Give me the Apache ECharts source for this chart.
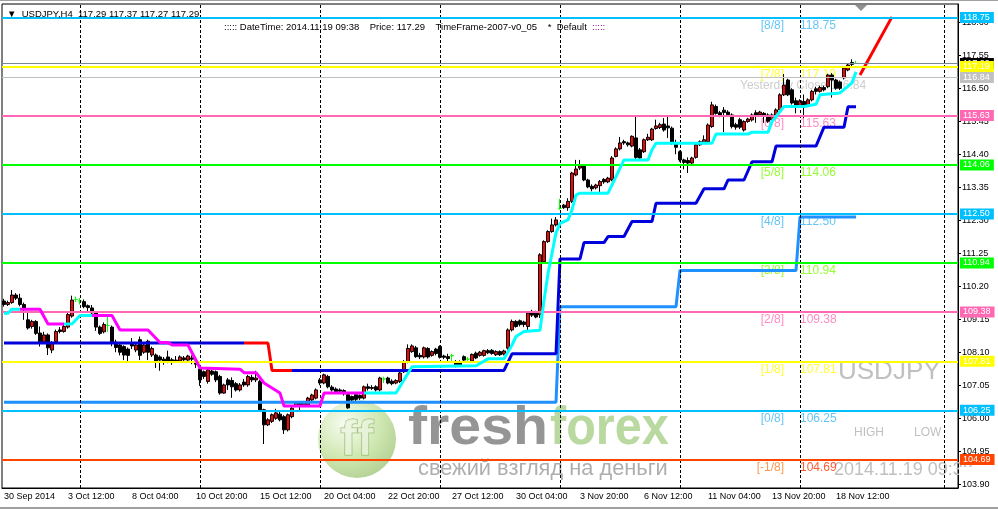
<!DOCTYPE html>
<html>
<head>
<meta charset="utf-8">
<title>USDJPY H4</title>
<script src="https://cdn.jsdelivr.net/npm/echarts@6.0.0/dist/echarts.min.js"></script>
<style>
html, body { margin: 0; padding: 0; background: #fff; }
#main { width: 998px; height: 509px; }
</style>
</head>
<body>
<div id="main"></div>
<script>
// x axis: one category per H4 bar, plus empty space on the right (chart shift)
const barCount = 239;
const xLabels = ['30 Sep 2014', '3 Oct 12:00', '8 Oct 04:00', '10 Oct 20:00', '15 Oct 12:00', '20 Oct 04:00', '22 Oct 20:00',
    '27 Oct 12:00', '30 Oct 04:00', '3 Nov 20:00', '6 Nov 12:00', '11 Nov 04:00', '13 Nov 20:00', '18 Nov 12:00'];
const xLabelBars = [0, 16, 32, 48, 64, 80, 96, 112, 128, 144, 160, 176, 192, 208];
const weekLines = [19, 49, 79, 109, 139, 169, 199, 235];
const yTicks = [103.90, 104.95, 106.00, 107.05, 108.10, 109.15, 110.20, 111.25, 112.30, 113.35, 114.40, 115.45, 116.50, 117.55, 118.60];

// open, close, low, high
const candles = [
    [109.73, 109.62, 109.55, 109.80], [109.62, 109.68, 109.57, 109.74], [109.68, 109.92, 109.64, 110.08], [109.92, 109.82, 109.76, 109.98],
    [109.82, 109.62, 109.56, 109.96], [109.62, 109.50, 109.13, 109.68], [109.13, 108.87, 108.82, 109.38], [108.92, 109.08, 108.85, 109.13],
    [109.08, 108.70, 108.65, 109.12], [108.71, 108.43, 108.28, 108.92], [108.43, 108.65, 108.38, 108.75], [108.65, 108.24, 108.01, 108.70],
    [108.17, 108.40, 108.07, 108.45], [108.44, 108.76, 108.40, 108.82], [108.81, 108.76, 108.70, 108.90], [108.76, 108.92, 108.72, 109.00],
    [108.90, 109.30, 108.85, 109.35], [109.25, 109.76, 109.20, 109.90], [109.78, 109.78, 109.70, 109.87], [109.73, 109.73, 109.62, 109.82],
    [109.71, 109.55, 109.50, 109.78], [109.58, 109.52, 109.35, 109.62], [109.51, 109.35, 109.30, 109.60], [109.35, 108.90, 108.78, 109.40],
    [108.90, 108.70, 108.65, 108.95], [108.75, 108.98, 108.70, 109.05], [108.95, 108.95, 108.75, 109.25], [108.90, 108.43, 108.29, 108.95],
    [108.42, 108.25, 108.10, 108.50], [108.33, 108.10, 108.00, 108.38], [108.28, 108.01, 107.85, 108.32], [108.20, 108.00, 107.78, 108.25],
    [108.36, 108.30, 108.20, 108.55], [108.17, 108.33, 108.10, 108.40], [108.50, 108.00, 107.85, 108.60], [108.10, 108.33, 108.05, 108.38],
    [108.45, 108.10, 107.85, 108.50], [108.01, 108.22, 107.95, 108.28], [108.01, 107.82, 107.60, 108.06], [107.95, 107.85, 107.51, 108.00],
    [107.88, 107.82, 107.70, 107.95], [107.95, 107.82, 107.75, 108.15], [107.86, 107.82, 107.70, 107.92], [107.85, 107.82, 107.76, 107.98],
    [107.82, 107.95, 107.78, 108.00], [107.92, 107.86, 107.80, 107.98], [107.85, 107.98, 107.80, 108.02], [107.92, 107.88, 107.72, 108.00],
    [107.82, 107.72, 107.60, 107.88], [107.57, 107.22, 107.03, 107.62], [107.48, 107.33, 107.25, 107.52], [107.17, 107.54, 107.10, 107.58],
    [107.50, 107.40, 107.35, 107.55], [107.48, 107.22, 107.15, 107.52], [107.33, 106.80, 106.75, 107.38], [106.80, 107.06, 106.78, 107.10],
    [107.22, 107.06, 106.90, 107.28], [107.20, 107.00, 106.65, 107.30], [107.10, 106.90, 106.85, 107.15], [106.90, 107.06, 106.85, 107.12],
    [107.15, 107.06, 107.00, 107.25], [107.06, 107.33, 107.00, 107.38], [107.30, 107.22, 107.15, 107.38], [107.22, 107.28, 107.15, 107.51],
    [107.17, 106.27, 106.22, 107.22], [106.27, 105.79, 105.18, 106.30], [105.79, 105.95, 105.75, 106.00], [105.90, 106.11, 105.85, 106.15],
    [106.00, 106.17, 105.95, 106.30], [106.13, 105.95, 105.90, 106.25], [106.05, 105.63, 105.50, 106.10], [105.63, 106.11, 105.58, 106.15],
    [106.05, 106.32, 106.00, 106.36], [106.40, 106.48, 106.35, 106.52], [106.50, 106.42, 106.25, 106.55], [106.42, 106.50, 106.38, 106.55],
    [106.42, 106.64, 106.38, 106.68], [106.58, 106.74, 106.55, 106.78], [106.64, 106.90, 106.60, 106.95], [107.22, 107.12, 107.05, 107.28],
    [107.12, 107.38, 107.08, 107.42], [107.33, 107.00, 106.95, 107.38], [106.99, 106.90, 106.85, 107.05], [106.93, 106.85, 106.80, 106.98],
    [106.90, 106.86, 106.80, 106.95], [106.88, 106.78, 106.72, 106.92], [106.75, 106.33, 106.30, 106.80], [106.69, 106.58, 106.52, 106.72],
    [106.75, 106.60, 106.55, 106.80], [106.72, 106.64, 106.58, 106.76], [106.64, 107.00, 106.60, 107.04], [107.00, 106.95, 106.88, 107.10],
    [106.98, 106.95, 106.90, 107.05], [107.00, 106.90, 106.85, 107.05], [106.90, 107.28, 106.85, 107.32], [107.25, 107.25, 107.12, 107.32],
    [107.28, 107.12, 107.08, 107.32], [107.18, 107.10, 107.05, 107.24], [107.12, 107.20, 107.08, 107.24], [107.17, 107.44, 107.12, 107.48],
    [107.48, 107.80, 107.44, 107.85], [107.80, 108.22, 107.75, 108.35], [108.12, 108.30, 108.08, 108.35], [108.24, 107.96, 107.92, 108.30],
    [108.00, 107.95, 107.88, 108.08], [107.95, 108.24, 107.90, 108.28], [108.22, 107.95, 107.90, 108.26], [108.00, 108.12, 107.96, 108.16],
    [108.20, 108.06, 108.00, 108.24], [108.28, 107.94, 107.90, 108.32], [107.98, 107.94, 107.88, 108.02], [107.96, 107.90, 107.80, 108.05],
    [107.99, 107.99, 107.80, 108.05], [107.80, 107.70, 107.62, 107.85], [107.80, 107.70, 107.66, 107.84], [107.96, 107.85, 107.80, 108.00],
    [107.88, 107.88, 107.80, 107.95], [107.82, 108.03, 107.78, 108.06], [108.07, 107.92, 107.88, 108.12], [108.00, 108.10, 107.96, 108.14],
    [108.00, 108.15, 107.96, 108.18], [108.15, 108.08, 108.04, 108.20], [108.16, 108.06, 108.02, 108.20], [108.02, 108.12, 107.98, 108.16],
    [108.12, 108.02, 107.98, 108.16], [108.04, 108.14, 108.00, 108.18], [108.23, 108.81, 108.18, 108.86], [108.81, 109.08, 108.76, 109.14],
    [109.08, 108.92, 108.88, 109.12], [109.10, 108.98, 108.92, 109.14], [109.06, 108.98, 108.90, 109.10], [108.92, 109.35, 108.80, 109.40],
    [109.40, 109.28, 109.22, 109.45], [109.38, 109.22, 109.18, 109.42], [109.29, 111.20, 109.19, 111.25], [110.98, 111.62, 110.95, 111.66],
    [111.62, 111.94, 111.58, 111.98], [111.94, 112.15, 111.90, 112.35], [112.15, 112.31, 112.10, 112.40], [112.68, 112.68, 112.63, 112.98],
    [112.78, 112.70, 112.66, 112.82], [112.70, 112.90, 112.60, 113.00], [112.90, 113.80, 112.85, 113.84], [113.74, 113.93, 113.70, 114.22],
    [113.96, 114.03, 113.90, 114.22], [114.03, 113.58, 113.54, 114.08], [113.58, 113.36, 113.32, 113.62], [113.38, 113.30, 113.22, 113.44],
    [113.33, 113.42, 113.28, 113.46], [113.40, 113.53, 113.20, 113.58], [113.60, 113.52, 113.46, 113.64], [113.52, 113.64, 113.48, 113.68],
    [113.58, 114.28, 113.54, 114.34], [114.33, 114.57, 114.30, 114.62], [114.57, 114.76, 114.52, 114.95], [114.80, 114.76, 114.70, 114.86],
    [114.76, 114.70, 114.64, 114.80], [114.66, 114.97, 114.62, 115.00], [114.92, 114.30, 114.20, 115.60], [114.54, 114.28, 114.24, 114.60],
    [114.48, 114.86, 114.44, 114.90], [114.86, 114.94, 114.82, 115.05], [114.86, 115.20, 114.82, 115.24], [115.22, 115.30, 115.18, 115.50],
    [115.25, 115.34, 115.20, 115.40], [115.36, 115.17, 115.12, 115.55], [115.30, 115.24, 114.92, 115.60], [115.23, 114.75, 114.70, 115.28],
    [114.75, 114.62, 114.40, 114.86], [114.48, 114.22, 114.16, 114.52], [114.22, 114.14, 113.92, 114.26], [114.20, 114.12, 113.80, 114.30],
    [114.12, 114.28, 114.05, 114.32], [114.30, 114.70, 114.26, 114.74], [114.70, 114.80, 114.66, 114.84], [114.78, 114.86, 114.72, 115.00],
    [114.80, 115.33, 114.76, 115.38], [115.28, 115.97, 115.24, 116.07], [115.92, 115.70, 115.66, 115.98], [115.72, 115.64, 115.58, 115.78],
    [115.80, 115.73, 115.10, 115.90], [115.74, 115.66, 115.60, 115.80], [115.65, 115.28, 115.22, 115.70], [115.34, 115.26, 115.18, 115.40],
    [115.50, 115.26, 115.20, 115.56], [115.17, 115.44, 115.12, 115.48], [115.44, 115.52, 115.40, 115.56], [115.49, 115.65, 115.44, 115.70],
    [115.72, 115.64, 115.40, 115.80], [115.66, 115.74, 115.60, 115.78], [115.70, 115.60, 115.40, 115.74], [115.65, 115.45, 115.40, 115.70],
    [115.49, 115.65, 115.45, 115.70], [115.65, 115.81, 115.60, 115.86], [115.81, 116.29, 115.76, 116.34], [116.29, 116.60, 116.25, 116.95],
    [116.76, 116.29, 116.25, 116.80], [116.45, 116.03, 115.98, 116.50], [116.10, 115.95, 115.70, 116.20], [115.95, 116.10, 115.90, 116.15],
    [116.08, 115.95, 115.55, 116.30], [115.95, 116.13, 115.90, 116.18], [116.13, 116.40, 116.08, 116.45], [116.48, 116.40, 116.30, 116.55],
    [116.40, 116.52, 116.36, 116.58], [116.52, 116.45, 116.40, 116.58], [116.55, 116.92, 116.50, 116.96], [116.92, 116.76, 116.20, 116.98],
    [116.76, 116.50, 116.45, 116.80], [116.70, 116.50, 116.44, 116.74], [116.83, 117.14, 116.78, 117.18], [117.08, 117.24, 117.04, 117.28],
    [117.32, 117.26, 117.20, 117.42], [117.29, 117.29, 117.27, 117.37]
];

// Murrey math levels
const levelNames = ['[8/8]', '[7/8]', '[6/8]', '[5/8]', '[4/8]', '[3/8]', '[2/8]', '[1/8]', '[0/8]', '[-1/8]'];
const levelValues = [118.75, 117.19, 115.63, 114.06, 112.50, 110.94, 109.38, 107.81, 106.25, 104.69];
const bidPrice = 117.29;
const yesterdayClose = 116.84;

// indicator lines, as [bar, price] corners
const slowBlue = [[0, 108.39], [60, 108.39]];
const slowRed = [[60, 108.39], [66, 108.39], [67, 107.52], [72, 107.52]];
const slowBlue2 = [[72, 107.52], [125, 107.52], [127, 108.05], [138, 108.05], [139, 111.07], [144, 111.07], [145, 111.59], [150, 111.59],
    [151, 111.78], [155, 111.78], [157, 112.26], [162, 112.26], [163, 112.84], [173, 112.84], [175, 113.30], [180, 113.30],
    [181, 113.58], [185, 113.58], [187, 114.16], [192, 114.16], [193, 114.66], [203, 114.66], [205, 115.26], [210, 115.26],
    [211, 115.91], [213, 115.91]];
const baseLine = [[0, 106.51], [138, 106.51], [139, 109.55], [168, 109.55], [169, 110.70], [198, 110.70], [199, 112.40], [213, 112.40]];
const trendUp = [
    [[0, 109.34], [1, 109.34], [2, 109.47], [4, 109.47]],
    [[15, 109.00], [17, 109.00], [19, 109.27], [22, 109.27]],
    [[90, 106.80], [98, 106.80], [102, 107.64], [118, 107.67], [121, 107.89], [125, 107.89], [127, 108.33], [128, 108.60],
        [130, 108.76], [134, 108.80], [135, 109.75], [136, 110.60], [137, 111.25], [138, 111.90], [139, 112.20], [141, 112.31],
        [142, 112.63], [143, 113.11], [144, 113.16], [151, 113.16], [153, 113.69], [154, 113.96], [155, 114.22], [161, 114.22],
        [162, 114.54], [163, 114.75], [177, 114.75], [178, 115.04], [186, 115.04], [187, 115.10], [191, 115.10], [192, 115.44],
        [195, 115.92], [200, 115.92], [203, 115.99], [204, 116.29], [209, 116.35], [212, 116.67], [213, 117.02]]
];
const trendDown = [
    [[4, 109.47], [9, 109.47], [11, 109.00], [15, 109.00]],
    [[22, 109.27], [27, 109.27], [29, 108.81], [36, 108.81], [39, 108.41], [41, 108.41], [42, 108.33], [46, 108.33],
        [49, 107.60], [59, 107.56], [60, 107.45], [63, 107.45], [65, 107.12], [69, 106.80], [70, 106.39], [79, 106.39],
        [80, 106.80], [90, 106.80]]
];
const projection = [[214, 116.92], [222, 118.77]];

const F = '"Liberation Sans", Arial, sans-serif';
const levelLineColors = ['#00BFFF', '#FFFF00', '#FF69B4', '#00FF00', '#00BFFF', '#00FF00', '#FF69B4', '#FFFF00', '#00BFFF', '#FF4500'];
const levelNameColors = ['#3DB7F2', '#FFFF00', '#FF6EB4', '#7CFC00', '#3DB7F2', '#7CFC00', '#FF6EB4', '#FFFF00', '#3DB7F2', '#FF7F24'];
const levelValueColors = ['#3DB7F2', '#FFFF00', '#FF6EB4', '#7CFC00', '#3DB7F2', '#7CFC00', '#FF6EB4', '#FFFF00', '#3DB7F2', '#FF3300'];

const categories = [];
for (let i = 0; i < barCount; i++) categories.push(String(i));

var chartDom = document.getElementById('main');
var myChart = echarts.init(chartDom);
var option;

const dojiStyle = { color: '#00FF00', color0: '#00FF00', borderColor: '#00FF00', borderColor0: '#00FF00', borderColorDoji: '#00FF00' };
const candleData = candles.map(c => c[0] === c[1] ? { value: c, itemStyle: dojiStyle } : c);

function priceBox(value, lineColor, width, boxColor) {
    return {
        yAxis: value,
        lineStyle: { color: lineColor, width: width, type: 'solid' },
        label: {
            show: true, position: 'end', distance: 2, formatter: value.toFixed(2),
            color: '#fff', backgroundColor: boxColor, padding: [1, 4, 0, 3],
            fontSize: 9, fontFamily: F, lineHeight: 10
        }
    };
}

const priceLines = [priceBox(bidPrice, '#778899', 1, '#000')];
levelValues.forEach((v, k) => priceLines.push(priceBox(v, levelLineColors[k], 2, levelLineColors[k])));
priceLines.push(priceBox(yesterdayClose, '#C0C0C0', 1, '#C0C0C0'));

const levelTexts = [];
levelValues.forEach((v, k) => {
    levelTexts.push({ value: [195, v], label: { formatter: levelNames[k], color: levelNameColors[k], align: 'right' } });
    levelTexts.push({ value: [199, v], label: { formatter: v.toFixed(2), color: levelValueColors[k], align: 'left' } });
});
levelTexts.push({ value: [184, yesterdayClose], label: { formatter: 'Yesterday Close ' + yesterdayClose.toFixed(2), color: '#C0C0C0', align: 'left' } });

function lineSeries(points, color, z) {
    return {
        type: 'line', data: points, symbol: 'none', z: z, silent: true,
        lineStyle: { color: color, width: 3 }
    };
}

const series = [
    {
        type: 'line', data: [], z: 1, silent: true,
        markLine: {
            symbol: ['none', 'none'], silent: true, label: { show: false },
            lineStyle: { color: '#000', width: 1, type: [3, 2] },
            data: weekLines.map(i => ({ xAxis: i }))
        }
    },
    {
        type: 'scatter', data: levelTexts, symbolSize: 0, z: 1, silent: true,
        label: { show: true, position: 'inside', offset: [0, 8], fontSize: 12, fontFamily: F, verticalAlign: 'middle' }
    },
    {
        type: 'candlestick', data: candleData, barWidth: 3, z: 2,
        itemStyle: { color: '#FF0000', color0: '#000000', borderColor: '#000000', borderColor0: '#000000', borderWidth: 1 }
    },
    {
        type: 'line', data: [], z: 3, silent: true,
        markLine: { symbol: ['none', 'none'], silent: true, data: priceLines }
    },
    lineSeries(baseLine, '#1E90FF', 4),
    lineSeries(slowBlue, '#0000DD', 4),
    lineSeries(slowRed, '#FF0000', 4),
    lineSeries(slowBlue2, '#0000DD', 4),
    lineSeries(projection, '#FF0000', 4)
];
trendUp.forEach(seg => series.push(lineSeries(seg, '#00FFFF', 5)));
trendDown.forEach(seg => series.push(lineSeries(seg, '#FF00FF', 5)));

option = {
    animation: false,
    backgroundColor: '#fff',
    grid: { left: 2, right: 40, top: 4, bottom: 21, show: true, borderColor: '#000', borderWidth: 1 },
    xAxis: {
        type: 'category', data: categories, boundaryGap: true,
        axisLine: { lineStyle: { color: '#000' } },
        axisTick: { alignWithLabel: true, length: 3, interval: (i) => xLabelBars.includes(i), lineStyle: { color: '#000' } },
        axisLabel: {
            interval: (i) => xLabelBars.includes(i),
            formatter: (v, i) => { const k = xLabelBars.indexOf(i); return k >= 0 ? xLabels[k] : ''; },
            align: 'left', margin: 4, color: '#000', fontSize: 9, fontFamily: F
        },
        splitLine: { show: false }
    },
    yAxis: {
        type: 'value', position: 'right', min: 103.78, max: 119.18,
        axisLine: { show: true, lineStyle: { color: '#000' } },
        axisTick: { show: true, length: 3, customValues: yTicks, lineStyle: { color: '#000' } },
        axisLabel: { customValues: yTicks, formatter: v => v.toFixed(2), color: '#000', fontSize: 9, fontFamily: F, margin: 4 },
        splitLine: { show: false }
    },
    graphic: [
        // window frame bits
        { type: 'rect', shape: { x: 0, y: 0, width: 998, height: 1 }, style: { fill: '#A0A0A0' }, z: 10 },
        { type: 'rect', shape: { x: 0, y: 507, width: 998, height: 2 }, style: { fill: '#A0A0A0' }, z: 10 },
        // chart shift marker
        { type: 'polygon', shape: { points: [[855, 5], [867, 5], [861, 11]] }, style: { fill: '#909090' }, z: 10 },
        // header
        { type: 'text', x: 7, y: 14, z: 10, style: { text: '▼  USDJPY,H4  117.29 117.37 117.27 117.29', fill: '#000', font: '9.5px ' + F, verticalAlign: 'middle' } },
        {
            type: 'text', x: 224, y: 27, z: 10, style: {
                text: '{a|::::: DateTime: 2014.11.19 09:38    Price: 117.29    TimeFrame-2007-v0_05    *  Default  }{b|:::::}',
                verticalAlign: 'middle',
                rich: { a: { fill: '#000', font: '9.5px ' + F }, b: { fill: '#800080', font: '9.5px ' + F } }
            }
        },
        // watermark
        {
            type: 'circle', z: 1, shape: { cx: 357, cy: 439, r: 39 }, style: {
                opacity: 0.55,
                fill: new echarts.graphic.RadialGradient(0.35, 0.3, 0.8, [
                    { offset: 0, color: '#F2FAE6' }, { offset: 0.55, color: '#A9D574' }, { offset: 1, color: '#6FA636' }])
            }
        },
        { type: 'text', x: 357, y: 441, z: 1, style: { text: 'ff', fill: '#EAF4DE', stroke: '#6FA040', lineWidth: 1, opacity: 0.7, font: 'bold 50px ' + F, align: 'center', verticalAlign: 'middle' } },
        { type: 'text', x: 408, y: 456, scaleX: 1.06, z: 1, style: { text: 'fresh', fill: '#7A7A7A', opacity: 0.8, font: 'bold 54px ' + F, verticalAlign: 'bottom' } },
        { type: 'text', x: 550, y: 456, scaleX: 0.9, z: 1, style: { text: 'forex', fill: '#A8D08A', opacity: 0.8, font: 'bold 54px ' + F, verticalAlign: 'bottom' } },
        { type: 'text', x: 418, y: 469, z: 1, style: { text: 'свежий взгляд на деньги', fill: '#9A9A9A', opacity: 0.8, font: '21.8px ' + F, verticalAlign: 'middle' } },
        // corner labels
        { type: 'text', x: 838, y: 372, z: 1, style: { text: 'USDJPY', fill: '#C0C0C0', font: '26px ' + F, verticalAlign: 'middle' } },
        { type: 'text', x: 854, y: 433, z: 1, style: { text: 'HIGH', fill: '#C0C0C0', font: '12px ' + F, verticalAlign: 'middle' } },
        { type: 'text', x: 914, y: 433, z: 1, style: { text: 'LOW', fill: '#C0C0C0', font: '12px ' + F, verticalAlign: 'middle' } },
        { type: 'text', x: 834, y: 470, z: 1, style: { text: '2014.11.19 09:38', fill: '#C0C0C0', font: '18px ' + F, verticalAlign: 'middle' } },
        { type: 'rect', z: 2, shape: { x: 959, y: 467, width: 39, height: 12 }, style: { fill: '#fff' } }
    ],
    series: series
};

option && myChart.setOption(option);
</script>
</body>
</html>
